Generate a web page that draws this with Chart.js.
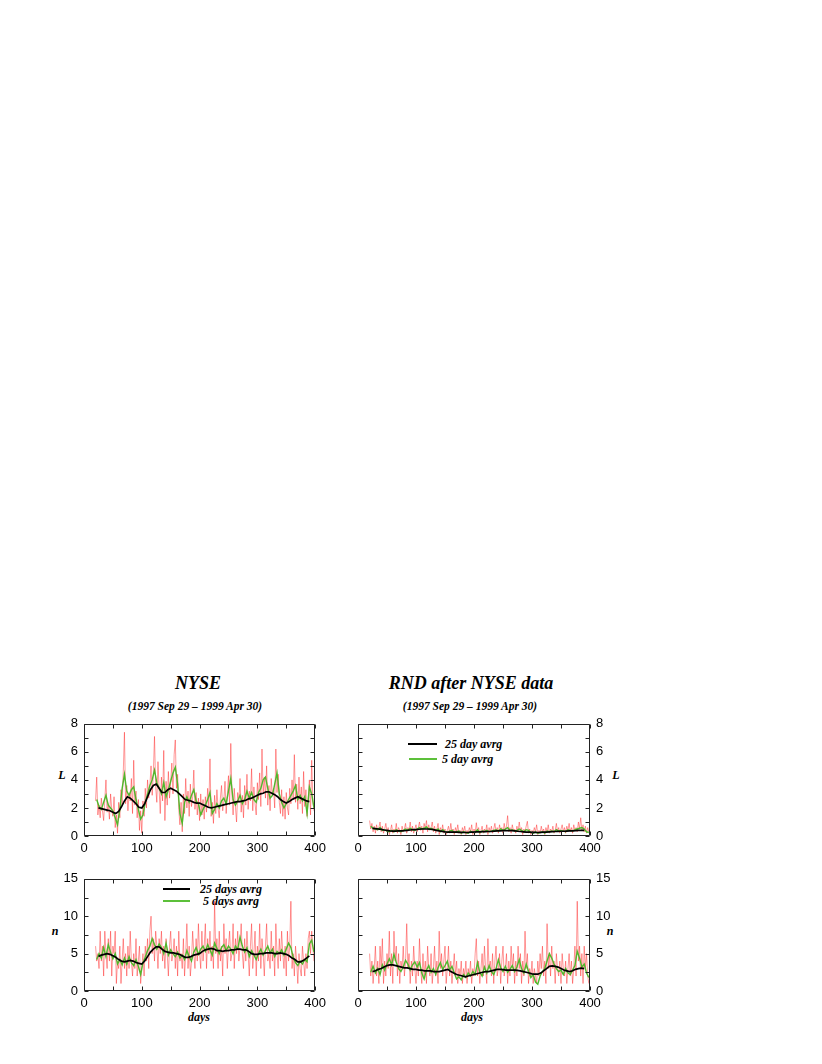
<!DOCTYPE html>
<html>
<head>
<meta charset="utf-8">
<script src="https://cdn.jsdelivr.net/npm/chart.js@4.4.1/dist/chart.umd.min.js"></script>
<style>
  body { margin: 0; background: #fff; width: 822px; height: 1064px; position: relative; overflow: hidden; }
  canvas { position: absolute; }
  .txt {
    position: absolute; white-space: nowrap; line-height: 1; color: #000;
    font-family: "Liberation Serif", "Times New Roman", serif; font-weight: bold; font-style: italic;
    transform: translate(-50%, -50%);
  }
  .key { position: absolute; white-space: nowrap; line-height: 1; color: #000;
    font-family: "Liberation Serif", "Times New Roman", serif; font-weight: bold; font-style: italic;
    font-size: 12px; transform: translateY(-50%); }
  .swatch { position: absolute; height: 0; }
</style>
</head>
<body>

<div class="txt" style="left:198px; top:683px; font-size:18px;">NYSE</div>
<div class="txt" style="left:195px; top:707px; font-size:11.5px;">(1997 Sep 29 – 1999 Apr 30)</div>
<div class="txt" style="left:471px; top:683px; font-size:18px;">RND after NYSE data</div>
<div class="txt" style="left:470px; top:707px; font-size:11.5px;">(1997 Sep 29 – 1999 Apr 30)</div>

<div class="txt" style="left:62px; top:775px; font-size:12px;">L</div>
<div class="txt" style="left:616px; top:775px; font-size:12px;">L</div>
<div class="txt" style="left:55px; top:931px; font-size:12px;">n</div>
<div class="txt" style="left:610px; top:931px; font-size:12px;">n</div>
<div class="txt" style="left:199px; top:1017px; font-size:12px;">days</div>
<div class="txt" style="left:472px; top:1017px; font-size:12px;">days</div>

<!-- keys -->
<div class="swatch" style="left:408px; top:743px; width:29px; border-top:2px solid #000;"></div>
<div class="key" style="left:445px; top:744px;">25 day avrg</div>
<div class="swatch" style="left:409px; top:758px; width:28px; border-top:2px solid #5cc03a;"></div>
<div class="key" style="left:442px; top:759px;">5 day avrg</div>

<div class="swatch" style="left:163px; top:888px; width:27px; border-top:2px solid #000;"></div>
<div class="key" style="left:200px; top:889px;">25 days avrg</div>
<div class="swatch" style="left:163px; top:900px; width:27px; border-top:2px solid #5cc03a;"></div>
<div class="key" style="left:203px; top:901px;">5 days avrg</div>

<canvas id="tl"></canvas>
<canvas id="tr"></canvas>
<canvas id="bl"></canvas>
<canvas id="br"></canvas>

<script>
// daily series: day 20..398 every 2 days; 5 day avrg: day 22..398 every 4; 25 day avrg: day 25..390 every 5
const dailyStart = 20, dailyStep = 2;
const avg5Start = 22, avg5Step = 4;
const avg25Start = 25, avg25Step = 5;

const dayLabels = [0, 100, 200, 300, 400];
const dayTicks = [0, 50, 100, 150, 200, 250, 300, 350, 400];
const lLabels = [0, 2, 4, 6, 8];
const lTicks = [0, 1, 2, 3, 4, 5, 6, 7, 8];
const nLabels = [0, 5, 10, 15];
const nTicks = [0, 2.5, 5, 7.5, 10, 12.5, 15];

// NYSE, L
const nyseL = [2.5,4.2,1.5,2.2,1.3,2.7,1.8,1.1,2.6,4.0,
  1.7,2.3,1.2,3.0,1.9,1.4,2.8,0.6,1.5,0.2,
  2.4,1.3,3.3,2.2,4.6,7.4,2.3,3.6,1.8,3.0,
  2.5,4.1,1.6,5.4,2.2,3.2,1.3,2.6,0.4,1.8,
  0.2,2.5,1.4,3.4,2.0,4.0,2.7,3.6,5.0,2.9,
  4.5,7.1,3.5,2.4,5.3,3.3,1.6,4.2,2.5,6.1,
  1.1,3.9,2.2,4.6,2.7,3.8,5.2,3.0,5.8,6.85,
  3.4,4.4,1.9,0.8,2.4,0.3,3.0,1.6,4.1,2.0,
  3.2,1.4,3.7,2.1,2.8,4.7,1.9,3.1,1.5,2.7,
  1.1,3.0,1.5,2.6,1.2,2.8,1.7,3.4,2.0,5.5,
  1.4,2.4,0.9,2.9,1.6,3.3,2.0,1.3,2.7,3.6,
  1.8,2.5,3.9,1.6,2.9,4.3,2.2,6.6,3.0,1.5,
  3.4,2.1,1.0,3.1,2.4,4.1,1.7,2.9,1.3,3.6,
  2.2,4.4,1.9,3.2,2.5,4.8,1.8,3.5,2.3,1.5,
  3.8,2.6,4.5,2.1,6.2,3.0,4.2,2.7,5.0,2.2,
  3.6,1.8,4.1,2.9,3.4,2.0,6.2,3.1,4.4,2.4,
  1.6,3.3,1.4,2.8,1.2,3.1,2.0,1.5,3.4,2.3,
  4.0,2.6,5.8,2.4,3.7,1.9,4.2,2.3,3.5,1.6,
  4.6,2.1,3.3,1.4,2.7,4.0,1.5,5.4,2.5,1.8];
const nyseL5 = [2.6,2.1,1.9,2.4,2.9,2.2,2.0,1.8,1.3,0.8,
  1.9,3.4,4.4,3.2,2.9,3.3,3.5,2.6,1.9,1.2,
  1.5,2.4,3.0,3.6,4.0,4.7,3.8,3.4,3.0,3.8,
  2.8,3.3,3.9,4.5,4.9,3.7,1.6,0.9,2.4,2.8,
  2.4,2.9,3.3,2.5,2.3,1.5,1.9,2.2,2.6,3.1,
  1.6,1.9,2.3,2.0,2.5,2.7,2.3,3.2,4.1,2.6,
  2.2,2.5,2.9,2.3,2.6,3.2,2.7,3.1,2.6,2.4,
  3.1,3.4,4.0,4.2,3.4,2.7,2.9,3.7,4.5,3.0,
  2.4,2.0,2.3,2.6,2.9,3.2,3.6,2.6,2.9,2.5,
  2.8,1.6,3.5,3.0,2.0];
const nyseL25 = [2.0,1.95,1.9,1.85,1.8,1.7,1.6,1.75,2.1,2.5,
  2.8,2.7,2.5,2.3,2.05,2.0,2.3,2.8,3.3,3.6,
  3.7,3.4,3.1,3.1,3.3,3.4,3.3,3.2,3.0,2.8,
  2.6,2.55,2.5,2.4,2.35,2.35,2.25,2.15,2.05,2.0,
  2.05,2.1,2.15,2.2,2.25,2.3,2.35,2.4,2.45,2.45,
  2.5,2.55,2.65,2.7,2.8,2.9,3.0,3.05,3.15,3.15,
  3.05,2.95,2.8,2.6,2.45,2.35,2.45,2.6,2.7,2.8,
  2.7,2.6,2.5,2.45];

// RND, L
const rndL = [1.1,0.5,0.9,0.3,0.7,0.2,0.8,0.4,0.6,1.0,
  0.3,0.7,0.2,0.5,0.9,0.3,0.6,0.1,0.4,0.8,
  0.2,0.5,0.3,0.9,0.2,0.6,0.4,0.1,0.7,0.3,
  0.5,0.9,0.2,0.6,0.4,1.0,0.3,0.7,0.2,0.5,
  0.8,0.3,0.6,1.0,0.4,0.7,0.2,0.9,0.5,1.1,
  0.3,0.8,0.4,0.6,1.0,0.3,0.7,0.2,0.5,0.9,
  0.1,0.6,0.3,0.8,0.2,0.5,0.1,0.4,0.7,0.2,
  0.9,0.3,0.5,0.1,0.6,0.3,0.8,0.2,0.4,0.1,
  0.6,0.3,0.7,0.1,0.4,0.2,0.6,0.3,0.8,0.1,
  0.5,0.2,0.95,0.3,0.6,0.1,0.4,0.7,0.2,0.5,
  0.3,0.8,0.1,0.6,0.3,0.7,0.2,0.5,0.9,0.3,
  0.6,0.2,0.8,0.4,0.6,0.2,0.9,0.4,0.7,1.45,
  0.3,0.6,0.2,0.8,0.4,0.5,0.2,0.7,0.3,1.0,
  0.4,0.6,0.1,0.5,0.3,0.7,1.05,0.2,0.5,0.1,
  0.4,0.2,0.6,0.3,0.8,0.1,0.4,0.2,0.7,0.3,
  0.5,0.1,0.6,0.3,0.8,0.2,0.5,0.3,0.7,0.2,
  0.4,0.9,0.3,0.6,0.2,0.5,0.8,0.3,0.6,0.2,
  0.7,0.4,0.9,0.3,0.6,0.2,0.8,0.4,0.6,0.3,
  1.0,0.5,1.3,0.4,0.8,0.3,0.7,0.2,0.6,0.3];
const rndL5 = [0.7,0.55,0.5,0.45,0.6,0.4,0.45,0.35,0.3,0.4,
  0.3,0.45,0.35,0.3,0.4,0.5,0.4,0.55,0.45,0.4,
  0.5,0.6,0.5,0.55,0.65,0.5,0.55,0.45,0.4,0.5,
  0.3,0.45,0.3,0.25,0.35,0.4,0.25,0.3,0.35,0.2,
  0.3,0.25,0.2,0.35,0.25,0.3,0.45,0.25,0.35,0.3,
  0.4,0.3,0.35,0.4,0.45,0.35,0.5,0.4,0.5,0.6,
  0.4,0.45,0.35,0.4,0.5,0.4,0.3,0.45,0.4,0.25,
  0.2,0.3,0.2,0.25,0.3,0.2,0.35,0.3,0.35,0.3,
  0.45,0.35,0.4,0.35,0.3,0.45,0.4,0.35,0.45,0.5,
  0.55,0.6,0.5,0.3,0.25];
const rndL25 = [0.55,0.53,0.5,0.47,0.43,0.4,0.37,0.35,0.35,0.36,
  0.37,0.38,0.4,0.43,0.45,0.46,0.48,0.5,0.5,0.5,
  0.48,0.45,0.4,0.36,0.33,0.3,0.28,0.28,0.27,0.27,
  0.26,0.26,0.25,0.25,0.27,0.28,0.3,0.3,0.31,0.31,
  0.32,0.33,0.35,0.36,0.37,0.38,0.38,0.39,0.38,0.36,
  0.34,0.32,0.3,0.28,0.27,0.26,0.26,0.25,0.26,0.27,
  0.28,0.3,0.31,0.32,0.33,0.34,0.34,0.35,0.36,0.37,
  0.38,0.4,0.41,0.4];

// NYSE, n
const nyseN = [6,4,5,3,8,4,6,2,8,5,
  3,7,4,8,2,6,5,8,1,4,
  3,6,1,4,7,3,5,2,6,3,
  8,4,2,5,3,7,2,4,6,1,
  3,5,2,6,4,7,3,8,10,5,
  7,4,8,6,3,7,5,8,4,6,
  3,7,5,2,6,8,4,5,7,3,
  6,2,8,4,5,3,7,2,5,9,
  3,6,2,4,8,5,3,7,4,9,
  5,3,8,4,6,9,3,7,5,8,
  4,6,3,12,5,7,3,8,4,6,
  2,9,5,7,3,6,8,4,5,9,
  3,7,5,8,4,6,9,5,3,7,
  4,8,5,2,6,9,3,5,8,2,
  6,4,9,3,7,5,2,6,9,4,
  5,3,8,4,6,2,9,5,3,7,
  4,8,5,3,6,2,8,4,6,12,
  3,5,2,6,4,1,5,3,2,6,
  4,2,5,3,7,8,5,8,6,4];
const nyseN5 = [4.2,5.0,4.4,5.8,4.6,6.2,5.2,4.3,5.0,3.6,
  4.2,3.5,4.4,3.6,4.6,3.8,3.4,4.2,3.3,2.2,
  3.8,4.5,5.4,6.0,7.0,6.2,5.6,6.3,5.8,5.0,
  6.4,4.8,5.5,5.0,4.6,5.2,4.4,4.8,4.2,5.4,
  4.6,4.0,5.2,5.8,4.9,5.6,6.0,5.3,6.2,5.5,
  4.8,6.4,5.7,5.0,5.8,6.2,5.4,6.0,5.6,5.0,
  6.0,5.6,7.2,6.0,5.2,5.8,4.6,5.4,4.8,4.2,
  5.0,5.6,4.8,5.4,6.0,5.1,5.6,4.6,5.3,5.0,
  5.5,4.8,5.6,6.4,5.8,4.5,3.8,3.4,4.0,3.6,
  4.2,3.9,6.3,6.8,5.2];
const nyseN25 = [4.6,4.8,4.9,5.0,4.9,4.7,4.5,4.2,4.0,3.9,
  4.0,4.1,4.0,3.8,3.7,3.6,4.0,4.6,5.2,5.6,
  5.9,5.9,5.6,5.3,5.2,5.1,5.1,5.0,4.9,4.7,
  4.5,4.5,4.6,4.8,4.9,5.0,5.3,5.5,5.6,5.7,
  5.6,5.4,5.4,5.3,5.4,5.4,5.5,5.5,5.6,5.6,
  5.5,5.5,5.3,5.0,4.9,4.9,5.0,5.0,5.1,5.1,
  5.1,5.0,5.0,5.1,5.0,4.9,4.7,4.4,4.2,3.9,
  3.9,4.1,4.4,4.7];

// RND, n
const rndN = [5,2,4,1,3,6,2,4,1,6,
  3,7,1,4,2,5,3,8,2,5,
  1,8,4,6,2,5,1,4,3,6,
  2,4,9,3,5,1,4,2,6,3,
  1,4,2,7,3,1,5,2,4,1,
  6,3,2,5,1,3,6,2,4,1,
  8,3,5,2,4,6,1,3,6,2,
  4,1,3,5,2,4,1,3,2,4,
  1,3,2,4,1,3,2,4,1,3,
  2,5,7,2,4,1,3,5,2,6,
  3,1,7,3,4,2,5,1,4,6,
  2,3,5,1,4,6,2,3,5,1,
  4,2,6,3,5,1,4,2,6,3,
  5,1,4,2,8,3,5,1,3,2,
  4,1,3,2,1,4,2,5,3,6,
  2,4,1,9,3,5,2,6,3,4,
  1,5,3,2,4,1,5,3,2,4,
  1,3,5,2,4,1,3,6,2,12,
  4,6,2,5,1,6,3,5,2,1];
const rndN5 = [2.5,3.3,2.4,3.0,2.2,3.5,2.8,3.6,4.3,3.5,
  4.9,3.8,3.0,2.6,3.2,4.1,3.6,2.8,3.5,3.9,
  3.2,3.8,2.4,1.6,2.8,3.4,2.5,3.0,2.2,3.1,
  3.8,2.9,3.4,4.0,2.8,3.3,2.4,1.6,1.9,1.5,
  2.2,1.8,2.4,2.0,2.6,2.2,3.8,2.5,2.0,3.2,
  2.4,3.4,2.6,2.2,3.0,4.2,3.1,2.6,3.3,2.5,
  2.9,3.4,2.6,3.2,4.2,3.0,2.4,3.6,2.6,1.8,
  2.2,1.2,0.9,2.0,2.6,3.0,4.0,5.0,4.4,3.6,
  3.0,2.6,2.8,2.2,3.0,2.4,2.2,2.8,3.4,5.3,
  4.4,3.2,3.6,2.4,1.8];
const rndN25 = [2.6,2.7,2.9,3.0,3.2,3.4,3.5,3.5,3.4,3.3,
  3.2,3.1,3.1,3.0,2.9,2.9,2.8,2.8,2.7,2.7,
  2.7,2.6,2.6,2.6,2.7,2.8,2.9,2.6,2.4,2.2,
  2.1,2.0,1.9,2.0,2.1,2.2,2.3,2.4,2.5,2.6,
  2.6,2.7,2.8,2.9,2.9,2.85,2.8,2.8,2.8,2.8,
  2.75,2.7,2.6,2.5,2.4,2.3,2.25,2.25,2.4,2.7,
  3.0,3.3,3.35,3.3,3.2,3.0,2.8,2.7,2.6,2.7,
  2.9,3.0,3.05,3.0];

const series = (start, step, vals) => vals.map((v, i) => ({ x: start + i * step, y: v }));

const tickFont = { family: "'Liberation Sans', Arial, sans-serif", size: 13 };

// gnuplot style frame with inward ticks on all four sides
const frameTicks = {
  id: 'frameTicks',
  afterDatasetsDraw(chart, args, opts) {
    const { ctx, chartArea: a, scales: { x, y } } = chart;
    const L = Math.round(a.left) + 0.5, R = Math.round(a.right) - 0.5;
    const T = Math.round(a.top) + 0.5, B = Math.round(a.bottom) - 0.5;
    ctx.save();
    ctx.strokeStyle = '#222';
    ctx.lineWidth = 1;
    ctx.beginPath();
    ctx.rect(L, T, R - L, B - T);
    dayTicks.forEach(d => {
      const px = Math.round(x.getPixelForValue(d)) + 0.5;
      ctx.moveTo(px, B); ctx.lineTo(px, B - 4);
      ctx.moveTo(px, T); ctx.lineTo(px, T + 4);
    });
    opts.yTicks.forEach(v => {
      const py = Math.round(y.getPixelForValue(v)) + 0.5;
      ctx.moveTo(L, py); ctx.lineTo(L + 4, py);
      ctx.moveTo(R, py); ctx.lineTo(R - 4, py);
    });
    ctx.stroke();
    ctx.restore();
  }
};

function panel(id, area, side, yMax, yLabels, yTicks, daily, avg5, avg25) {
  const cv = document.getElementById(id);
  const axisW = 40, axisH = 30, padT = 10, padS = 14;
  const w = area.r - area.l, h = area.b - area.t;
  const left = side === 'left' ? area.l - axisW : area.l - padS;
  cv.width = axisW + w + padS;
  cv.height = padT + h + axisH;
  cv.style.left = left + 'px';
  cv.style.top = (area.t - padT) + 'px';

  new Chart(cv, {
    type: 'line',
    data: {
      datasets: [
        { data: series(avg25Start, avg25Step, avg25), borderColor: '#000', borderWidth: 1.7 },
        { data: series(avg5Start, avg5Step, avg5), borderColor: '#4fb92c', borderWidth: 1.4 },
        { data: series(dailyStart, dailyStep, daily), borderColor: 'rgba(255,30,30,0.45)', borderWidth: 1 }
      ]
    },
    options: {
      responsive: false,
      animation: false,
      devicePixelRatio: 1,
      elements: { point: { radius: 0 }, line: { tension: 0 } },
      layout: { padding: side === 'left'
        ? { top: padT, right: padS, left: 0, bottom: 0 }
        : { top: padT, left: padS, right: 0, bottom: 0 } },
      plugins: { legend: { display: false }, tooltip: { enabled: false }, frameTicks: { yTicks } },
      scales: {
        x: {
          type: 'linear', min: 0, max: 400,
          grid: { display: false, drawTicks: false },
          border: { display: false },
          afterBuildTicks: s => { s.ticks = dayLabels.map(v => ({ value: v })); },
          afterFit: s => { s.height = axisH; },
          ticks: { font: tickFont, color: '#000', padding: 5, maxRotation: 0, autoSkip: false }
        },
        y: {
          position: side, min: 0, max: yMax,
          grid: { display: false, drawTicks: false },
          border: { display: false },
          afterBuildTicks: s => { s.ticks = yLabels.map(v => ({ value: v })); },
          afterFit: s => { s.width = axisW; },
          ticks: { font: tickFont, color: '#000', padding: 6, autoSkip: false }
        }
      }
    },
    plugins: [frameTicks]
  });
}

panel('tl', { l: 84, t: 720, r: 317, b: 836 }, 'left', 8, lLabels, lTicks, nyseL, nyseL5, nyseL25);
panel('tr', { l: 358, t: 720, r: 590, b: 836 }, 'right', 8, lLabels, lTicks, rndL, rndL5, rndL25);
panel('bl', { l: 84, t: 875, r: 317, b: 991 }, 'left', 15, nLabels, nTicks, nyseN, nyseN5, nyseN25);
panel('br', { l: 358, t: 875, r: 590, b: 991 }, 'right', 15, nLabels, nTicks, rndN, rndN5, rndN25);
</script>
</body>
</html>
